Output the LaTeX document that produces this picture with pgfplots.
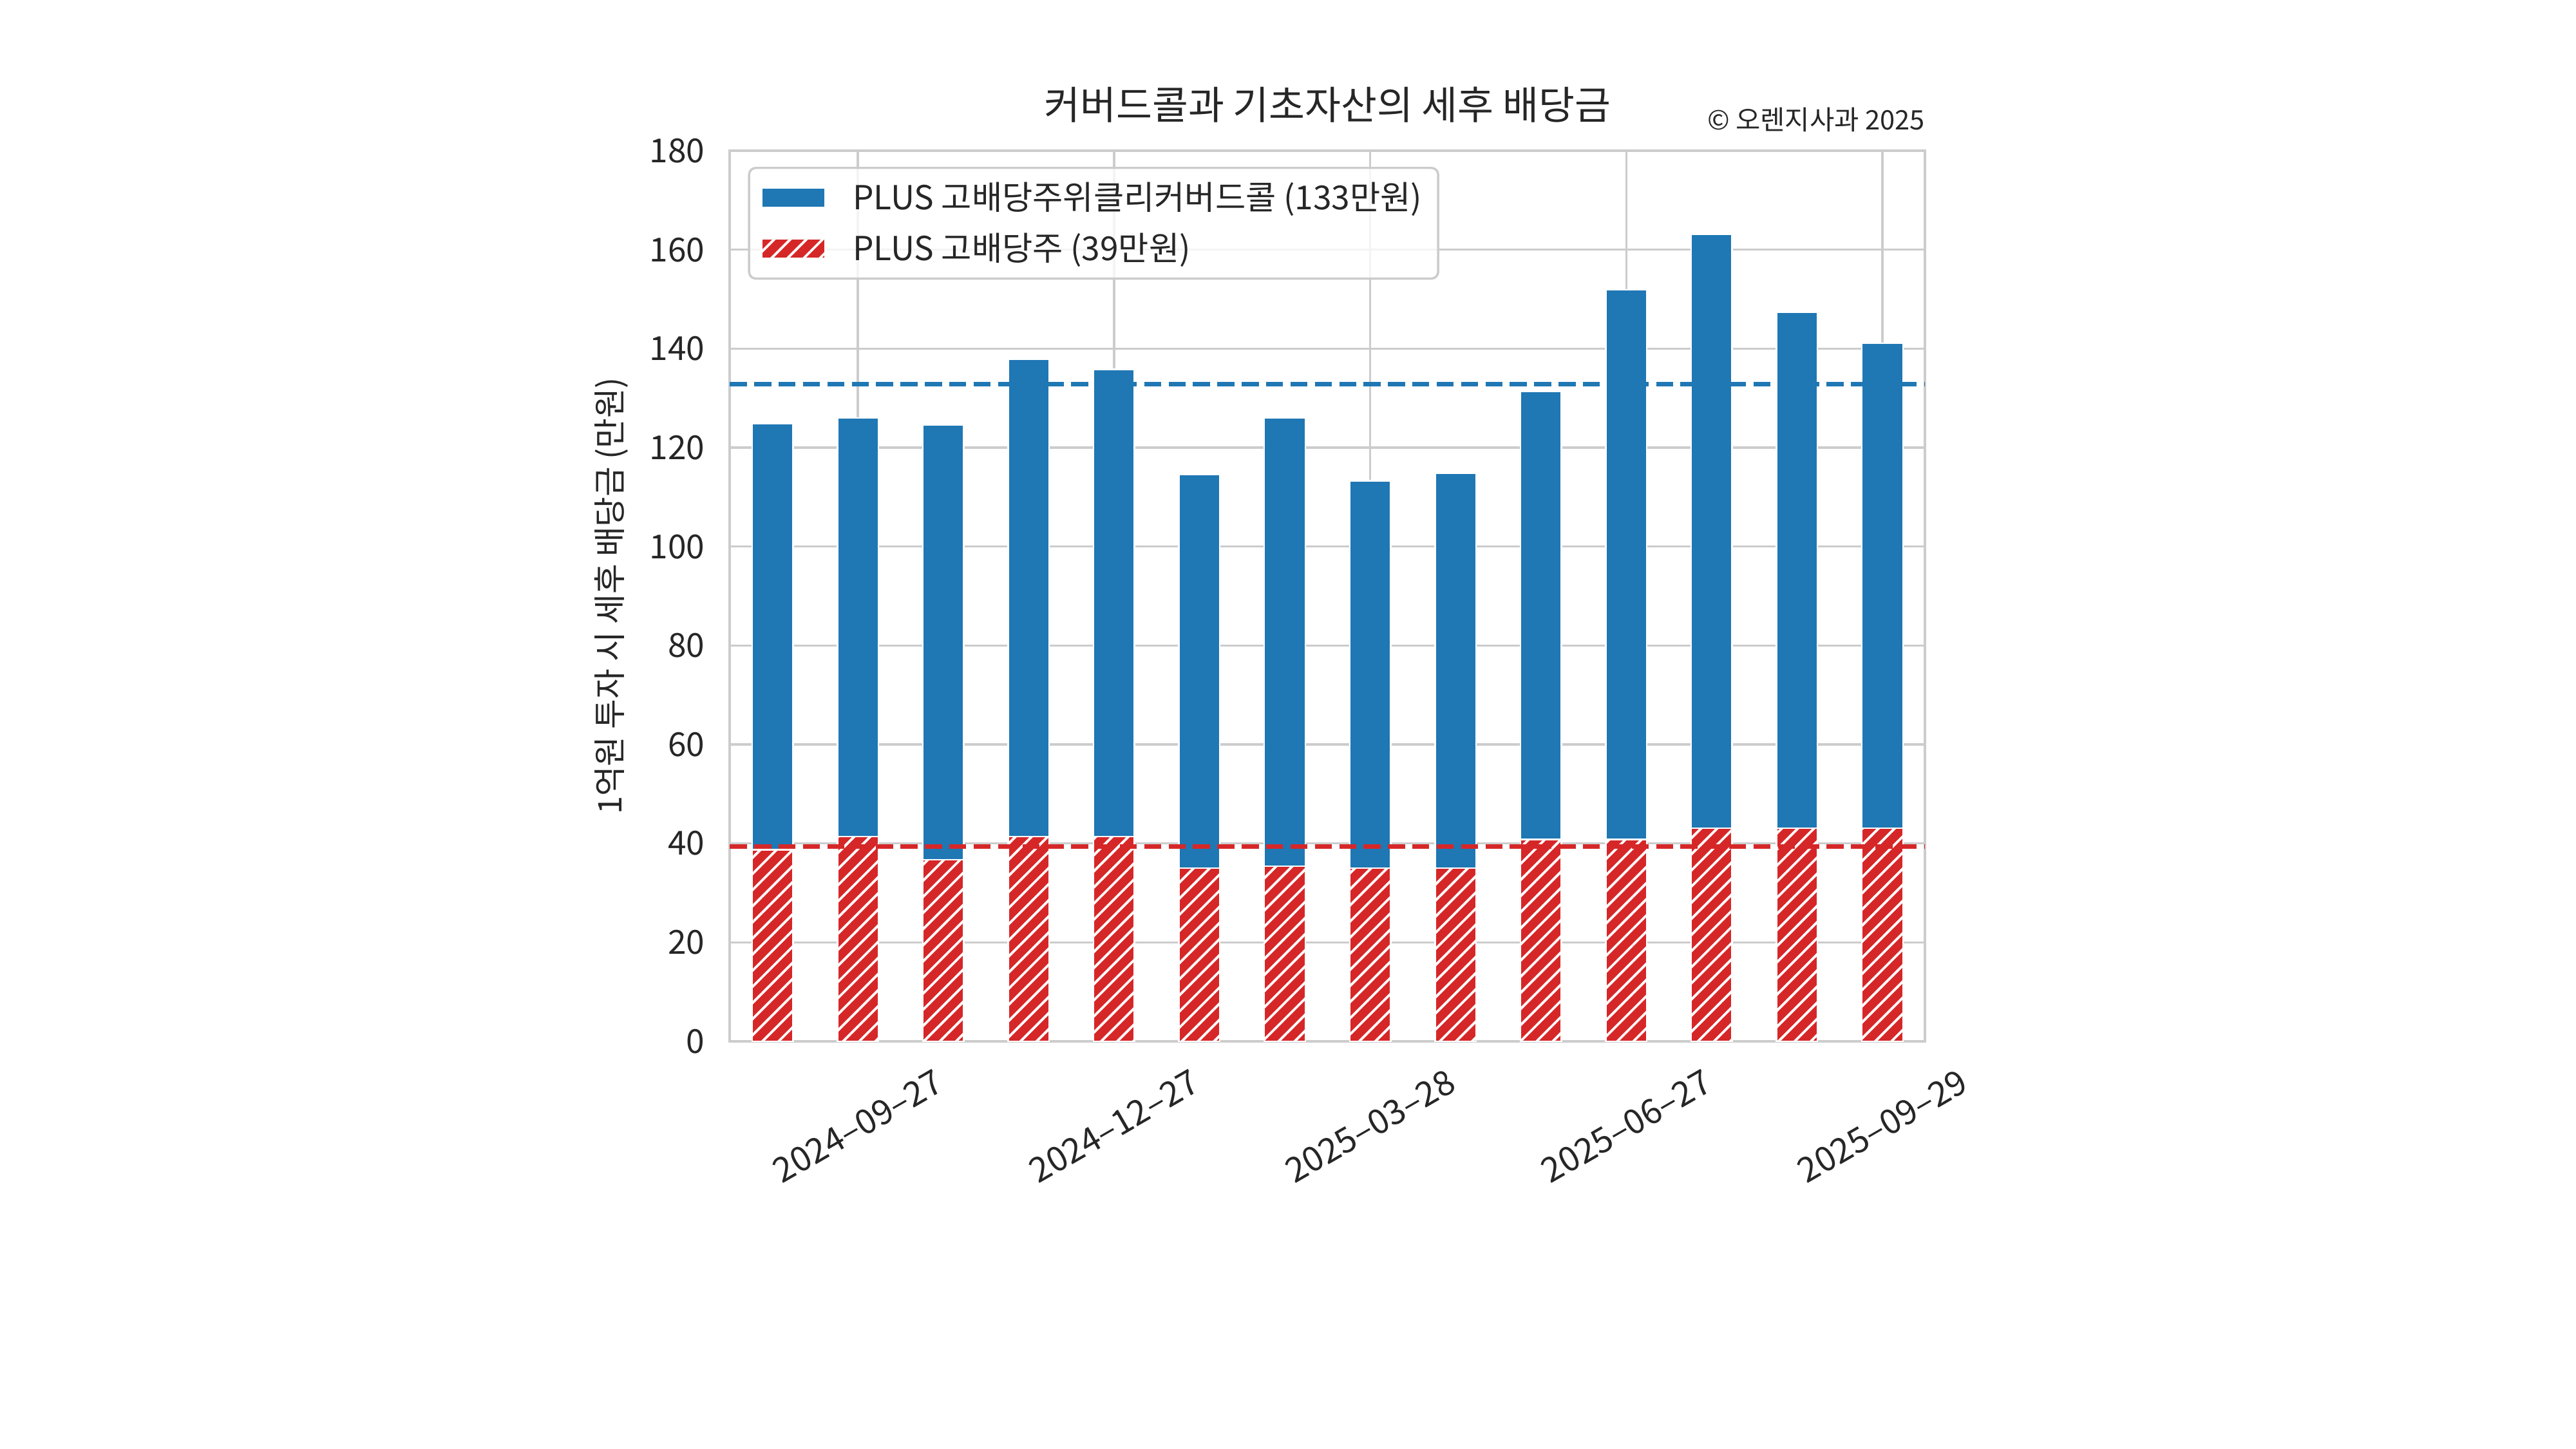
\documentclass[border=0pt]{standalone}
\usepackage{fontspec}
\setmainfont{Noto Sans CJK KR}
\usepackage{pgfplots}
\pgfplotsset{compat=1.18}
\usetikzlibrary{patterns.meta}
\definecolor{mblue}{HTML}{1F77B4}
\definecolor{mred}{HTML}{D62728}
\definecolor{gridc}{HTML}{CCCCCC}
\definecolor{txt}{HTML}{262626}
\pgfplotsset{boxlegend/.style={legend image code/.code={\draw[##1, sharp corners, fill opacity=1] (0pt,-4.3pt) rectangle (28.5pt,4.3pt);}}}
\begin{document}
\begin{tikzpicture}
\fill[white, use as bounding box] (0,0) rectangle (1152pt,648pt);
\begin{axis}[
  at={(326.4pt,182.3pt)}, anchor=south west,
  scale only axis, width=534.5pt, height=398.3pt,
  clip=false,
  xmin=-0.5, xmax=13.5, ymin=0, ymax=180,
  xtick={1,4,7,10,13},
  xticklabels={2024–09–27,2024–12–27,2025–03–28,2025–06–27,2025–09–29},
  ytick={0,20,...,180},
  grid=major,
  major grid style={draw=gridc, line width=1pt},
  axis line style={draw=gridc, line width=1.2pt},
  major tick length=0pt,
  tick style={draw=none},
  /pgf/number format/assume math mode=true,
  tick label style={font=\fontsize{14.8pt}{17pt}\selectfont, text=txt},
  yticklabel style={inner sep=0pt, xshift=-11pt},
  xticklabel style={yshift=-38pt, rotate=30, anchor=center, inner sep=0pt, font=\fontsize{15.3pt}{17pt}\selectfont},
  every axis y label/.style={at={(axis description cs:-0.0992,0.5)}, rotate=90, anchor=center, font=\fontsize{14.6pt}{17pt}\selectfont, text=txt},
  ylabel={1억원 투자 시 세후 배당금 (만원)},
  title={커버드콜과 기초자산의 세후 배당금},
  title style={at={(axis description cs:0.5,1)}, anchor=center, yshift=14.5pt, font=\fontsize{17.5pt}{20pt}\selectfont, text=txt},
  legend cell align=left,
  legend style={at={(axis description cs:0,1)}, anchor=north west, xshift=8.1pt, yshift=-7.2pt,
    draw=gridc, line width=1pt, rounded corners=3pt,
    fill=white, fill opacity=0.8, draw opacity=1, text opacity=1,
    font=\fontsize{14.8pt}{17pt}\selectfont, text=txt,
    inner xsep=5.2pt, inner ysep=4.5pt, row sep=5pt, nodes={inner sep=2pt},
    /tikz/every odd column/.append style={column sep=10pt}},
]
\addplot[ybar, bar width=0.48, bar shift=0pt, fill=mblue, draw=white, line width=0.7pt, boxlegend]
  coordinates {(0,124.9) (1,126.0) (2,124.6) (3,137.8) (4,135.8) (5,114.6) (6,126.0)
               (7,113.3) (8,114.8) (9,131.3) (10,151.9) (11,163.1) (12,147.3) (13,141.1)};
\addlegendentry{PLUS 고배당주위클리커버드콜 (133만원)}
\addplot[ybar, bar width=0.48, bar shift=0pt, fill=mred, draw=white, line width=0.7pt,
  postaction={pattern={Lines[angle=45,distance=5.1pt,line width=1.1pt]}, pattern color=white}, boxlegend]
  coordinates {(0,38.7) (1,41.4) (2,36.7) (3,41.4) (4,41.4) (5,35.0) (6,35.4)
               (7,35.0) (8,35.0) (9,40.8) (10,40.8) (11,43.1) (12,43.1) (13,43.1)};
\addlegendentry{PLUS 고배당주 (39만원)}
\addplot[forget plot, sharp plot, mblue, line width=2.1pt, dash pattern=on 7.6pt off 3.3pt]
  coordinates {(-0.5,132.8) (13.5,132.8)};
\addplot[forget plot, sharp plot, mred, line width=2.1pt, dash pattern=on 7.6pt off 3.3pt]
  coordinates {(-0.5,39.4) (13.5,39.4)};
\node[anchor=east, inner sep=0pt, font=\fontsize{12pt}{14pt}\selectfont, text=txt] at (axis description cs:1,1) [yshift=13.8pt] {© 오렌지사과 2025};
\end{axis}
\end{tikzpicture}
\end{document}
